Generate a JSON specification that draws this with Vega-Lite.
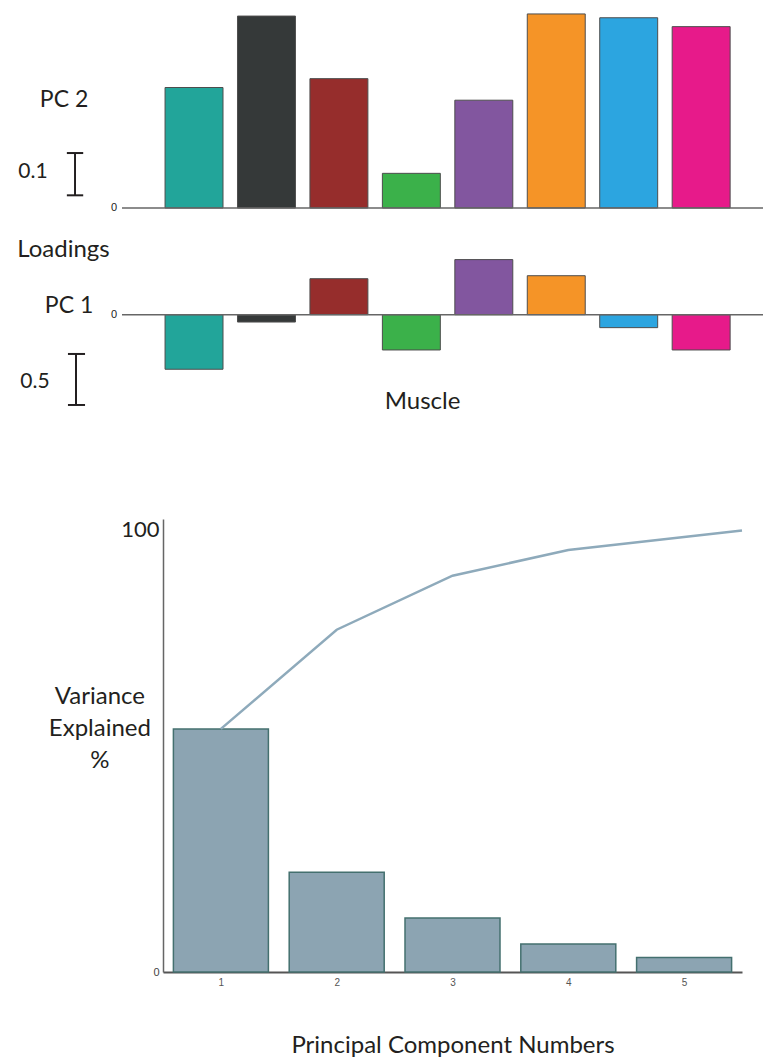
{
  "$schema": "https://vega.github.io/schema/vega-lite/v6.json",
  "padding": 0,
  "spacing": 0,
  "bounds": "full",
  "config": {"view": {"stroke": null}, "font": "Lato", "axis": {"grid": false}, "scale": {"zero": false}},
  "datasets": {
    "muscles": [
      {"muscle": "M1", "pc2": 0.285, "pc1": -0.535},
      {"muscle": "M2", "pc2": 0.454, "pc1": -0.072},
      {"muscle": "M3", "pc2": 0.306, "pc1": 0.353},
      {"muscle": "M4", "pc2": 0.082, "pc1": -0.346},
      {"muscle": "M5", "pc2": 0.255, "pc1": 0.54},
      {"muscle": "M6", "pc2": 0.459, "pc1": 0.382},
      {"muscle": "M7", "pc2": 0.45, "pc1": -0.127},
      {"muscle": "M8", "pc2": 0.429, "pc1": -0.346}
    ],
    "variance": [
      {"pc": 1, "variance": 54.9},
      {"pc": 2, "variance": 22.5},
      {"pc": 3, "variance": 12.2},
      {"pc": 4, "variance": 6.3},
      {"pc": 5, "variance": 3.3}
    ],
    "cumulative": [
      {"pc": 1, "cumulative": 54.9},
      {"pc": 2, "cumulative": 77.3},
      {"pc": 3, "cumulative": 89.5},
      {"pc": 4, "cumulative": 95.3},
      {"pc": 5.5, "cumulative": 99.7}
    ]
  },
  "vconcat": [
    {
      "spacing": 0,
      "bounds": "flush",
      "hconcat": [
        {
          "width": 122,
          "height": 214,
          "data": {"values": [{}]},
          "layer": [
            {
              "mark": {"type": "rule", "color": "#231f20", "strokeWidth": 2},
              "encoding": {
                "x": {"datum": 0.615, "type": "quantitative", "scale": {"domain": [0, 1], "nice": false}, "axis": null},
                "y": {"datum": 0.03, "type": "quantitative", "scale": {"domain": [-0.0142, 0.492], "nice": false}, "axis": null},
                "y2": {"datum": 0.13}
              }
            },
            {
              "mark": {"type": "rule", "color": "#231f20", "strokeWidth": 2},
              "encoding": {
                "x": {"datum": 0.548, "type": "quantitative", "scale": {"domain": [0, 1], "nice": false}, "axis": null},
                "x2": {"datum": 0.682},
                "y": {"datum": 0.03, "type": "quantitative", "scale": {"domain": [-0.0142, 0.492], "nice": false}, "axis": null}
              }
            },
            {
              "mark": {"type": "rule", "color": "#231f20", "strokeWidth": 2},
              "encoding": {
                "x": {"datum": 0.548, "type": "quantitative", "scale": {"domain": [0, 1], "nice": false}, "axis": null},
                "x2": {"datum": 0.682},
                "y": {"datum": 0.13, "type": "quantitative", "scale": {"domain": [-0.0142, 0.492], "nice": false}, "axis": null}
              }
            },
            {
              "mark": {"type": "text", "text": "0.1", "fontSize": 21, "align": "center", "baseline": "middle", "color": "#231f20"},
              "encoding": {
                "x": {"datum": 0.27, "type": "quantitative", "scale": {"domain": [0, 1], "nice": false}, "axis": null},
                "y": {"datum": 0.085, "type": "quantitative", "scale": {"domain": [-0.0142, 0.492], "nice": false}, "axis": null}
              }
            },
            {
              "mark": {"type": "text", "text": "PC 2", "fontSize": 23, "align": "center", "baseline": "middle", "color": "#231f20"},
              "encoding": {
                "x": {"datum": 0.525, "type": "quantitative", "scale": {"domain": [0, 1], "nice": false}, "axis": null},
                "y": {"datum": 0.255, "type": "quantitative", "scale": {"domain": [-0.0142, 0.492], "nice": false}, "axis": null}
              }
            },
            {
              "mark": {"type": "text", "text": "0", "font": "Liberation Sans", "fontSize": 11, "align": "right", "baseline": "middle", "color": "#222222"},
              "encoding": {
                "x": {"datum": 0.96, "type": "quantitative", "scale": {"domain": [0, 1], "nice": false}, "axis": null},
                "y": {"datum": 0, "type": "quantitative", "scale": {"domain": [-0.0142, 0.492], "nice": false}, "axis": null}
              }
            }
          ]
        },
        {
          "width": 641,
          "height": 214,
          "layer": [
            {
              "data": {"name": "muscles"},
              "mark": {"type": "bar", "stroke": "#4d4d4d", "strokeWidth": 1},
              "encoding": {
                "x": {"field": "muscle", "type": "nominal", "sort": null, "scale": {"paddingInner": 0.2, "paddingOuter": 0.524, "align": 0.567}, "axis": null},
                "y": {"field": "pc2", "type": "quantitative", "scale": {"domain": [-0.0142, 0.492], "nice": false}, "axis": null},
                "y2": {"datum": 0},
                "color": {
                  "field": "muscle", "type": "nominal", "legend": null,
                  "scale": {
                    "domain": ["M1", "M2", "M3", "M4", "M5", "M6", "M7", "M8"],
                    "range": ["#22a59a", "#353939", "#962d2c", "#3bb14a", "#82569f", "#f59427", "#2ca5e0", "#e71a8a"]
                  }
                }
              }
            },
            {
              "data": {"values": [{}]},
              "mark": {"type": "rule", "color": "#666666", "strokeWidth": 1.5},
              "encoding": {"y": {"datum": 0, "type": "quantitative"}}
            }
          ]
        }
      ]
    },
    {
      "spacing": 0,
      "bounds": "flush",
      "hconcat": [
        {
          "width": 122,
          "height": 304,
          "data": {"values": [{}]},
          "layer": [
            {
              "mark": {"type": "rule", "color": "#231f20", "strokeWidth": 2},
              "encoding": {
                "x": {"datum": 0.623, "type": "quantitative", "scale": {"domain": [0, 1], "nice": false}, "axis": null},
                "y": {"datum": -0.385, "type": "quantitative", "scale": {"domain": [-1.993, 0.987], "nice": false}, "axis": null},
                "y2": {"datum": -0.885}
              }
            },
            {
              "mark": {"type": "rule", "color": "#231f20", "strokeWidth": 2},
              "encoding": {
                "x": {"datum": 0.557, "type": "quantitative", "scale": {"domain": [0, 1], "nice": false}, "axis": null},
                "x2": {"datum": 0.697},
                "y": {"datum": -0.385, "type": "quantitative", "scale": {"domain": [-1.993, 0.987], "nice": false}, "axis": null}
              }
            },
            {
              "mark": {"type": "rule", "color": "#231f20", "strokeWidth": 2},
              "encoding": {
                "x": {"datum": 0.557, "type": "quantitative", "scale": {"domain": [0, 1], "nice": false}, "axis": null},
                "x2": {"datum": 0.697},
                "y": {"datum": -0.885, "type": "quantitative", "scale": {"domain": [-1.993, 0.987], "nice": false}, "axis": null}
              }
            },
            {
              "mark": {"type": "text", "text": "0.5", "fontSize": 21, "align": "center", "baseline": "middle", "color": "#231f20"},
              "encoding": {
                "x": {"datum": 0.287, "type": "quantitative", "scale": {"domain": [0, 1], "nice": false}, "axis": null},
                "y": {"datum": -0.655, "type": "quantitative", "scale": {"domain": [-1.993, 0.987], "nice": false}, "axis": null}
              }
            },
            {
              "mark": {"type": "text", "text": "PC 1", "fontSize": 23, "align": "center", "baseline": "middle", "color": "#231f20"},
              "encoding": {
                "x": {"datum": 0.566, "type": "quantitative", "scale": {"domain": [0, 1], "nice": false}, "axis": null},
                "y": {"datum": 0.085, "type": "quantitative", "scale": {"domain": [-1.993, 0.987], "nice": false}, "axis": null}
              }
            },
            {
              "mark": {"type": "text", "text": "Loadings", "fontSize": 24, "align": "center", "baseline": "middle", "color": "#231f20"},
              "encoding": {
                "x": {"datum": 0.52, "type": "quantitative", "scale": {"domain": [0, 1], "nice": false}, "axis": null},
                "y": {"datum": 0.634, "type": "quantitative", "scale": {"domain": [-1.993, 0.987], "nice": false}, "axis": null}
              }
            },
            {
              "mark": {"type": "text", "text": "0", "font": "Liberation Sans", "fontSize": 11, "align": "right", "baseline": "middle", "color": "#222222"},
              "encoding": {
                "x": {"datum": 0.96, "type": "quantitative", "scale": {"domain": [0, 1], "nice": false}, "axis": null},
                "y": {"datum": 0, "type": "quantitative", "scale": {"domain": [-1.993, 0.987], "nice": false}, "axis": null}
              }
            }
          ]
        },
        {
          "width": 641,
          "height": 304,
          "layer": [
            {
              "data": {"name": "muscles"},
              "mark": {"type": "bar", "stroke": "#4d4d4d", "strokeWidth": 1},
              "encoding": {
                "x": {"field": "muscle", "type": "nominal", "sort": null, "scale": {"paddingInner": 0.2, "paddingOuter": 0.524, "align": 0.567}, "axis": null},
                "y": {"field": "pc1", "type": "quantitative", "scale": {"domain": [-1.993, 0.987], "nice": false}, "axis": null},
                "y2": {"datum": 0},
                "color": {
                  "field": "muscle", "type": "nominal", "legend": null,
                  "scale": {
                    "domain": ["M1", "M2", "M3", "M4", "M5", "M6", "M7", "M8"],
                    "range": ["#22a59a", "#353939", "#962d2c", "#3bb14a", "#82569f", "#f59427", "#2ca5e0", "#e71a8a"]
                  }
                }
              }
            },
            {
              "data": {"values": [{}]},
              "mark": {"type": "rule", "color": "#666666", "strokeWidth": 1.5},
              "encoding": {"y": {"datum": 0, "type": "quantitative"}}
            },
            {
              "data": {"values": [{}]},
              "mark": {"type": "text", "text": "Muscle", "fontSize": 24, "align": "center", "baseline": "middle", "color": "#231f20", "dx": -20},
              "encoding": {"y": {"datum": -0.853, "type": "quantitative"}}
            }
          ]
        }
      ]
    },
    {
      "spacing": 0,
      "bounds": "flush",
      "hconcat": [
        {
          "width": 163,
          "height": 453,
          "data": {"values": [{}]},
          "mark": {"type": "text", "text": ["Variance", "Explained", "%"], "fontSize": 24, "lineHeight": 32, "align": "center", "baseline": "middle", "color": "#231f20"},
          "encoding": {
            "x": {"datum": 0.613, "type": "quantitative", "scale": {"domain": [0, 1], "nice": false}, "axis": null},
            "y": {"datum": 62, "type": "quantitative", "scale": {"domain": [0, 102.3], "nice": false}, "axis": null}
          }
        },
        {
          "width": 579,
          "height": 453,
          "layer": [
            {
              "data": {"name": "variance"},
              "mark": {"type": "bar", "width": 95, "fill": "#8ca4b2", "stroke": "#44706f", "strokeWidth": 1.5},
              "encoding": {
                "x": {
                  "field": "pc", "type": "quantitative", "scale": {"domain": [0.5, 5.5], "nice": false, "padding": 0},
                  "axis": {
                    "values": [1, 2, 3, 4, 5], "format": "d", "ticks": false, "domainColor": "#555555", "domainWidth": 2,
                    "labelFont": "Liberation Sans", "labelFontSize": 10, "labelColor": "#555555", "labelPadding": 5,
                    "title": "Principal Component Numbers", "titleFont": "Lato", "titleFontSize": 24, "titleFontWeight": "normal",
                    "titleColor": "#231f20", "titlePadding": 46
                  }
                },
                "y": {
                  "field": "variance", "type": "quantitative", "scale": {"domain": [0, 102.3], "nice": false, "padding": 0},
                  "axis": {
                    "values": [0, 100], "ticks": false, "domainColor": "#666666", "domainWidth": 1.5,
                    "labelFont": {"condition": {"test": "datum.value === 100", "value": "Lato"}, "value": "Liberation Sans"},
                    "labelFontSize": {"condition": {"test": "datum.value === 100", "value": 22}, "value": 11},
                    "labelColor": {"condition": {"test": "datum.value === 100", "value": "#231f20"}, "value": "#444444"},
                    "labelPadding": 4,
                    "title": null
                  }
                },
                "y2": {"datum": 0}
              }
            },
            {
              "data": {"name": "cumulative"},
              "mark": {"type": "line", "color": "#8eaabb", "strokeWidth": 2.5},
              "encoding": {
                "x": {"field": "pc", "type": "quantitative"},
                "y": {"field": "cumulative", "type": "quantitative"}
              }
            }
          ]
        }
      ]
    }
  ]
}
